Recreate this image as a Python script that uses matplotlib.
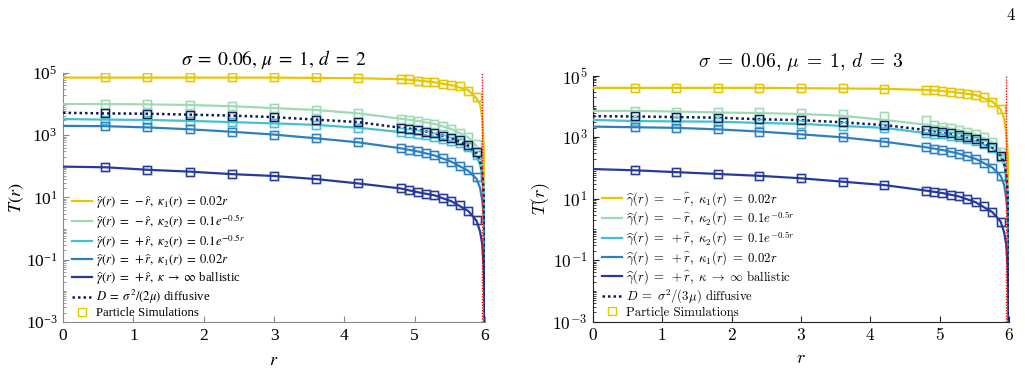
import numpy as np
import matplotlib
matplotlib.use("Agg")
import matplotlib.pyplot as plt
from matplotlib.font_manager import FontProperties
from matplotlib.ticker import FixedLocator, LogLocator, NullFormatter


# marker positions (particle simulations)
SIM_R = [0.6, 1.2, 1.8, 2.4, 3.0, 3.6, 4.2,
         4.8, 4.92, 5.04, 5.16, 5.28, 5.40, 5.52, 5.64, 5.76, 5.88]
# positions for the theory curves
LINE_R = [0, 0.6, 1.2, 1.8, 2.4, 3.0, 3.6, 4.2, 4.8, 5.04, 5.28, 5.52,
          5.76, 5.88, 5.93, 5.96, 5.98, 5.99, 5.997, 6.0]
R_ABS = 5.95
Y_TICKS = [1e-3, 1e-1, 1e1, 1e3, 1e5]

# ---- d = 2 (log10 T) ----
d2_lines = {
    "yellow": [4.85, 4.85, 4.85, 4.85, 4.85, 4.85, 4.84, 4.83, 4.80, 4.76, 4.70, 4.61,
               4.45, 4.18, 4.00, 3.55, 2.70, 1.80, 0.50, -4],
    "green": [4.00, 4.00, 3.99, 3.97, 3.93, 3.87, 3.81, 3.70, 3.53, 3.46, 3.36, 3.20,
              2.93, 2.65, 2.50, 2.10, 1.50, 1.00, 0.00, -4],
    "cyan": [3.52, 3.50, 3.49, 3.46, 3.42, 3.38, 3.33, 3.24, 3.10, 3.04, 2.95, 2.81,
             2.62, 2.30, 2.05, 1.70, 1.10, 0.60, -0.40, -4],
    "blue": [3.30, 3.29, 3.25, 3.19, 3.11, 3.02, 2.90, 2.77, 2.58, 2.48, 2.35, 2.15,
             1.86, 1.60, 1.30, 0.90, 0.50, 0.10, -0.80, -4],
    "navy": [1.99, 1.97, 1.89, 1.83, 1.75, 1.69, 1.59, 1.45, 1.29, 1.17, 1.07, 0.88,
             0.57, 0.25, -0.10, -0.50, -1.20, -2.00, -3.50, -4],
}
d2_diff = [3.72, 3.70, 3.69, 3.66, 3.63, 3.58, 3.50, 3.42, 3.24, 3.18, 3.06, 2.91,
           2.67, 2.42, 2.20, 1.80, 1.20, 0.70, -0.30, -4]
d2_sims = {
    "yellow": [4.86, 4.86, 4.86, 4.86, 4.86, 4.86, 4.85, 4.80, 4.79, 4.75, 4.72, 4.70,
               4.66, 4.62, 4.58, 4.43, 4.24],
    "green": [4.00, 3.99, 3.97, 3.93, 3.87, 3.82, 3.70, 3.53, 3.50, 3.46, 3.40, 3.36,
              3.29, 3.20, 3.08, 2.94, 2.71],
    "cyan": [3.49, 3.48, 3.46, 3.42, 3.38, 3.33, 3.24, 3.10, 3.07, 3.04, 3.00, 2.95,
             2.89, 2.81, 2.74, 2.63, 2.36],
    "blue": [3.29, 3.25, 3.19, 3.11, 3.02, 2.90, 2.77, 2.58, 2.52, 2.48, 2.42, 2.35,
             2.27, 2.15, 2.02, 1.88, 1.65],
    "navy": [1.97, 1.89, 1.83, 1.75, 1.69, 1.59, 1.45, 1.29, 1.24, 1.17, 1.12, 1.07,
             0.98, 0.88, 0.76, 0.57, 0.27],
}
d2_diff_sims = [3.70, 3.69, 3.66, 3.63, 3.58, 3.50, 3.42, 3.24, 3.21, 3.18, 3.11, 3.06,
                2.98, 2.91, 2.83, 2.67, 2.45]

# ---- d = 3 (log10 T) ----
d3_lines = {
    "yellow": [4.60, 4.60, 4.60, 4.60, 4.60, 4.59, 4.58, 4.57, 4.53, 4.50, 4.44, 4.37,
               4.15, 3.90, 3.60, 3.10, 2.50, 2.00, 1.20, -4],
    "green": [3.85, 3.85, 3.83, 3.80, 3.78, 3.75, 3.69, 3.56, 3.40, 3.33, 3.23, 3.09,
              2.83, 2.55, 2.35, 2.00, 1.50, 1.00, 0.00, -4],
    "cyan": [3.56, 3.52, 3.51, 3.50, 3.46, 3.43, 3.36, 3.30, 3.13, 3.09, 2.99, 2.86,
             2.64, 2.36, 2.10, 1.75, 1.15, 0.65, -0.40, -4],
    "blue": [3.34, 3.32, 3.30, 3.25, 3.18, 3.09, 2.99, 2.85, 2.67, 2.58, 2.46, 2.29,
             2.01, 1.74, 1.45, 1.00, 0.55, 0.15, -0.80, -4],
    "navy": [1.96, 1.92, 1.86, 1.80, 1.74, 1.66, 1.55, 1.44, 1.26, 1.18, 1.07, 0.88,
             0.56, 0.25, -0.10, -0.50, -1.20, -2.00, -3.50, -4],
}
d3_diff = [3.68, 3.67, 3.65, 3.63, 3.58, 3.55, 3.48, 3.39, 3.23, 3.17, 3.07, 2.94,
           2.67, 2.39, 2.15, 1.80, 1.20, 0.70, -0.30, -4]
d3_sims = {
    "yellow": [4.60, 4.60, 4.60, 4.60, 4.60, 4.59, 4.57, 4.53, 4.52, 4.50, 4.46, 4.44,
               4.41, 4.37, 4.31, 4.15, 3.91],
    "green": [3.85, 3.83, 3.83, 3.80, 3.78, 3.75, 3.69, 3.56, 3.38, 3.33, 3.29, 3.23,
              3.18, 3.09, 3.01, 2.83, 2.52],
    "cyan": [3.52, 3.51, 3.50, 3.46, 3.43, 3.36, 3.30, 3.13, 3.10, 3.09, 3.05, 3.00,
             2.94, 2.86, 2.77, 2.64, 2.36],
    "blue": [3.32, 3.30, 3.25, 3.18, 3.09, 2.99, 2.85, 2.67, 2.62, 2.58, 2.52, 2.46,
             2.39, 2.29, 2.15, 2.01, 1.74],
    "navy": [1.92, 1.86, 1.80, 1.74, 1.66, 1.55, 1.44, 1.26, 1.23, 1.18, 1.12, 1.07,
             0.98, 0.88, 0.77, 0.56, 0.25],
}
d3_diff_sims = [3.67, 3.65, 3.63, 3.58, 3.55, 3.48, 3.39, 3.23, 3.21, 3.17, 3.13, 3.07,
                3.01, 2.94, 2.81, 2.67, 2.39]

COLORS = {
    "yellow": "#E3C800",
    "green": "#9FDAB4",
    "cyan": "#45C0CC",
    "blue": "#2C80C0",
    "navy": "#263A9C",
}
DIFF_COLOR = "#0B1F5C"
ORDER = ["yellow", "green", "cyan", "blue", "navy"]


def labels(d):
    k1 = r"0.02r"
    k2 = r"0.1e^{-0.5r}"
    eq = r"\;=\;"
    return [
        r"$\widehat{\gamma}(r)%s-\widehat{r},\ \kappa_1(r)%s%s$" % (eq, eq, k1),
        r"$\widehat{\gamma}(r)%s-\widehat{r},\ \kappa_2(r)%s%s$" % (eq, eq, k2),
        r"$\widehat{\gamma}(r)%s+\widehat{r},\ \kappa_2(r)%s%s$" % (eq, eq, k2),
        r"$\widehat{\gamma}(r)%s+\widehat{r},\ \kappa_1(r)%s%s$" % (eq, eq, k1),
        r"$\widehat{\gamma}(r)%s+\widehat{r},\ \kappa\;\rightarrow\;\infty$ ballistic" % eq,
        r"$D%s\sigma^2/(%d\mu)$ diffusive" % (eq, d),
        "Particle Simulations",
    ]


def sim_marks(ax, ys, color):
    ax.plot(SIM_R, ys, ls="none", marker="s", ms=5.8, mfc="none", mec=color,
            mew=1.8, alpha=0.3, zorder=2)
    ax.plot(SIM_R, ys, ls="none", marker="s", ms=5.2, mfc="none", mec=color,
            mew=0.9, zorder=5)


def panel(ax, lines, diff, sims, diff_sims, d, family, mathfam, spine_col):
    r = np.array(LINE_R)
    handles = []
    for key in ORDER:
        h, = ax.plot(r, 10.0 ** np.array(lines[key]), color=COLORS[key], lw=1.6, zorder=3)
        handles.append(h)
    hd, = ax.plot(r, 10.0 ** np.array(diff), color=DIFF_COLOR, lw=1.8, ls=(0, (1, 1.2)), zorder=4)
    handles.append(hd)
    for key in ORDER:
        sim_marks(ax, 10.0 ** np.array(sims[key]), COLORS[key])
    sim_marks(ax, 10.0 ** np.array(diff_sims), DIFF_COLOR)
    hs, = ax.plot([], [], ls="none", marker="s", ms=5.5, mfc="none", mec=COLORS["yellow"], mew=1.0)
    handles.append(hs)

    ax.axvline(R_ABS, color="red", lw=1.0, ls=(0, (1, 1)), zorder=6)

    ax.set_yscale("log")
    ax.set_xlim(0, 6)
    ax.set_ylim(1e-3, 1e5)
    ax.set_xticks(range(7))
    ax.yaxis.set_major_locator(FixedLocator(Y_TICKS))
    ax.yaxis.set_minor_locator(LogLocator(base=10.0, subs=np.arange(1, 10), numticks=100))
    ax.yaxis.set_minor_formatter(NullFormatter())
    for s in ["top", "right"]:
        ax.spines[s].set_visible(False)
    for s in ["left", "bottom"]:
        ax.spines[s].set_color(spine_col)
        ax.spines[s].set_linewidth(0.8)
    ax.tick_params(which="both", direction="in", color=spine_col, labelsize=12.5, pad=4)
    ax.tick_params(which="major", length=4)
    ax.tick_params(which="minor", length=2)
    for t in ax.get_xticklabels() + ax.get_yticklabels():
        t.set_fontfamily(family)
        t.set_math_fontfamily(mathfam)

    ax.set_title(r"$\sigma\;=\;0.06,\,\mu\;=\;1,\,d\;=\;%d$" % d, fontsize=14, pad=6,
                 math_fontfamily=mathfam)
    ax.set_xlabel(r"$r$", fontsize=13, labelpad=5, math_fontfamily=mathfam)
    ax.set_ylabel(r"$T(r)$", fontsize=13, labelpad=0, math_fontfamily=mathfam)

    fp = FontProperties(family=family, size=9.2, math_fontfamily=mathfam)
    leg = ax.legend(handles, labels(d), loc="lower left", bbox_to_anchor=(0.0, -0.025),
                    frameon=False, prop=fp, handlelength=1.6, handletextpad=0.3,
                    labelspacing=0.1, borderaxespad=0.3)
    return leg


fig = plt.figure(figsize=(10.25, 3.74), dpi=100)
ax1 = fig.add_axes([0.0615, 0.139, 0.4117, 0.666])
ax2 = fig.add_axes([0.5785, 0.140, 0.4059, 0.658])

panel(ax1, d2_lines, d2_diff, d2_sims, d2_diff_sims, 2,
      "Liberation Serif", "stix", "#8a8a8a")
panel(ax2, d3_lines, d3_diff, d3_sims, d3_diff_sims, 3,
      "cmr10", "cm", "#222222")

fig.text(0.99, 0.96, "4", fontsize=12, family="cmr10", ha="right", va="center")

fig.savefig("out.png", dpi=100)
